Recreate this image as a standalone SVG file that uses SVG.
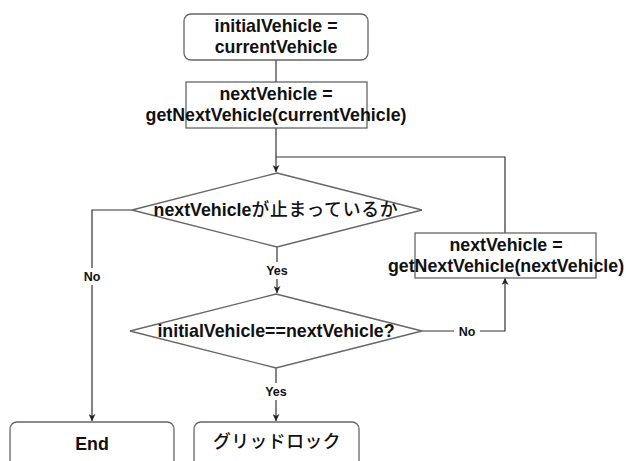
<svg xmlns="http://www.w3.org/2000/svg" width="626" height="461" viewBox="0 0 626 461">
<defs>
<marker id="arr" viewBox="0 0 10 10" refX="10" refY="5" markerWidth="7" markerHeight="7" orient="auto" markerUnits="userSpaceOnUse"><path d="M0,0 L10,5 L0,10 L3,5 z" fill="#222"/></marker>
<style>
.box{fill:#fff;stroke:#666;stroke-width:1.3}
.t{font-family:"Liberation Sans","Noto Sans CJK JP",sans-serif;font-weight:bold;font-size:17.8px;fill:#111;text-anchor:middle}
.j{font-family:"Noto Sans CJK JP",sans-serif;font-weight:500}
.lbl{font-family:"Liberation Sans",sans-serif;font-weight:bold;font-size:12.5px;fill:#111;text-anchor:middle}
.c{fill:none;stroke:#333;stroke-width:1.2}
</style>
</defs>
<rect width="626" height="461" fill="#fff"/>
<g id="connectors">
<path class="c" d="M276,60 V82"/>
<path class="c" d="M276,128 V172" marker-end="url(#arr)"/>
<path class="c" d="M276,157 H505 V233"/>
<path class="c" d="M132,210 H92 V421" marker-end="url(#arr)"/>
<path class="c" d="M277,247 V293" marker-end="url(#arr)"/>
<path class="c" d="M422,331 H505 V278" marker-end="url(#arr)"/>
<path class="c" d="M276,368 V421" marker-end="url(#arr)"/>
<rect x="81" y="268" width="22" height="17" fill="#fff"/>
<text class="lbl" x="92" y="281">No</text>
<rect x="261" y="262" width="32" height="17" fill="#fff"/>
<text class="lbl" x="277" y="275">Yes</text>
<rect x="454" y="323" width="26" height="17" fill="#fff"/>
<text class="lbl" x="467" y="336">No</text>
<rect x="261" y="383" width="32" height="17" fill="#fff"/>
<text class="lbl" x="276" y="396">Yes</text>
</g>
<g id="start">
<rect class="box" x="184" y="14" width="184" height="46" rx="7"/>
<text class="t" x="276" y="32">initialVehicle =</text>
<text class="t" x="276" y="53">currentVehicle</text>
</g>
<g id="next1">
<rect class="box" x="186" y="82" width="181" height="46"/>
<text class="t" x="276" y="100">nextVehicle =</text>
<text class="t" x="276" y="121">getNextVehicle(currentVehicle)</text>
</g>
<g id="cond1">
<polygon class="box" points="277,173 422,210 277,247 132,210"/>
<text class="t" x="276" y="216">nextVehicle<tspan class="j" letter-spacing="0.8">が止まっているか</tspan></text>
</g>
<g id="next2">
<rect class="box" x="415" y="233" width="181" height="45"/>
<text class="t" x="506" y="251">nextVehicle =</text>
<text class="t" x="506" y="272">getNextVehicle(nextVehicle)</text>
</g>
<g id="cond2">
<polygon class="box" points="276,294 422,331 276,368 130,331"/>
<text class="t" x="276" y="337">initialVehicle==nextVehicle?</text>
</g>
<g id="end">
<rect class="box" x="10" y="422" width="164" height="60" rx="7"/>
<text class="t" x="92" y="450">End</text>
</g>
<g id="gridlock">
<rect class="box" x="194" y="422" width="165" height="60" rx="7"/>
<text class="t j" x="277" y="448" font-size="13.5" letter-spacing="0.5">グリッドロック</text>
</g>
</svg>
